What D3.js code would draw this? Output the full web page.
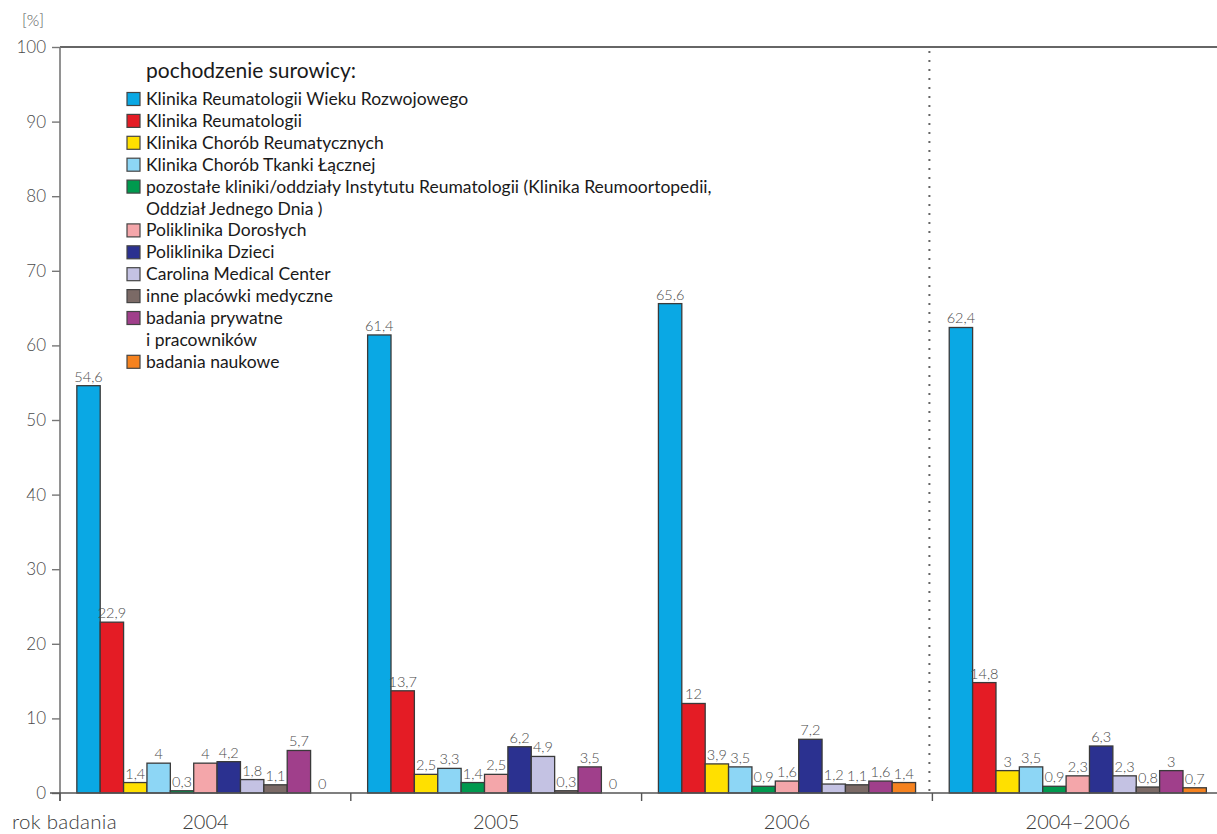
<!DOCTYPE html>
<html>
<head>
<meta charset="utf-8">
<script src="https://cdn.jsdelivr.net/npm/d3@7"></script>
<style>
  html, body { margin: 0; padding: 0; background: #fff; }
  svg { display: block; font-family: Lato, "Open Sans", sans-serif; }
</style>
</head>
<body>
<svg id="chart" width="1217" height="834"></svg>
<script>
// Years of study (groups on the x axis)
const years = ["2004", "2005", "2006", "2004–2006"];

// Origin of the serum samples (series)
const sources = [
  "Klinika Reumatologii Wieku Rozwojowego",
  "Klinika Reumatologii",
  "Klinika Chorób Reumatycznych",
  "Klinika Chorób Tkanki Łącznej",
  "pozostałe kliniki/oddziały Instytutu Reumatologii (Klinika Reumoortopedii,\nOddział Jednego Dnia )",
  "Poliklinika Dorosłych",
  "Poliklinika Dzieci",
  "Carolina Medical Center",
  "inne placówki medyczne",
  "badania prywatne\ni pracowników",
  "badania naukowe"
];

const colors = [
  "#0aa8e4", "#e41c25", "#ffe000", "#8dd6f5", "#00994e", "#f4a6aa",
  "#2b3190", "#c4c2e3", "#7b6a66", "#a03f8b", "#f5821f"
];

// Percent share of each source, one array per year
const values2004 = [54.6, 22.9, 1.4, 4, 0.3, 4, 4.2, 1.8, 1.1, 5.7, 0];
const values2005 = [61.4, 13.7, 2.5, 3.3, 1.4, 2.5, 6.2, 4.9, 0.3, 3.5, 0];
const values2006 = [65.6, 12, 3.9, 3.5, 0.9, 1.6, 7.2, 1.2, 1.1, 1.6, 1.4];
const valuesAll  = [62.4, 14.8, 3, 3.5, 0.9, 2.3, 6.3, 2.3, 0.8, 3, 0.7];

const yTicks = [0, 10, 20, 30, 40, 50, 60, 70, 80, 90, 100];

const table = [values2004, values2005, values2006, valuesAll];

const svg = d3.select("#chart");
const plotLeft = 60, plotTop = 47, plotBottom = 793;

const x = d3.scaleBand().domain(years).range([plotLeft, plotLeft + 4 * 290.8]);
const xi = d3.scaleBand().domain(d3.range(sources.length))
  .range([0, x.bandwidth()]).paddingInner(0).paddingOuter(0.72);
const y = d3.scaleLinear().domain([0, 100]).range([plotBottom, plotTop]);

const fmt = v => String(v).replace(".", ",");

// top frame line
svg.append("line").attr("x1", plotLeft).attr("x2", 1217).attr("y1", plotTop).attr("y2", plotTop)
  .attr("stroke", "#333").attr("stroke-width", 1.6);

// dotted separator before the summary group
const sepX = x("2004–2006") - 3;
svg.append("line").attr("x1", sepX).attr("x2", sepX).attr("y1", plotTop + 4).attr("y2", plotBottom)
  .attr("stroke", "#666").attr("stroke-width", 2).attr("stroke-dasharray", "2,7");

// y axis
const yAxis = svg.append("g").attr("transform", `translate(${plotLeft},0)`)
  .call(d3.axisLeft(y).tickValues(yTicks).tickSize(8).tickPadding(6));
yAxis.select(".domain").attr("stroke", "#777").attr("stroke-width", 1.6)
  .attr("d", `M0,${plotTop}V${plotBottom + 8}`);
yAxis.selectAll(".tick line").attr("stroke", "#777").attr("stroke-width", 1.4);
yAxis.selectAll(".tick text").attr("fill", "#4a4a4a").style("font-size", "17px")
  .style("font-family", "Lato, sans-serif").style("font-weight", 300);

// bars
const groups = svg.selectAll("g.year").data(years).join("g")
  .attr("class", "year").attr("transform", d => `translate(${x(d)},0)`);

groups.each(function(yr, gi) {
  const g = d3.select(this);
  const vals = table[gi];
  g.selectAll("rect").data(vals).join("rect")
    .attr("x", (d, i) => xi(i))
    .attr("y", d => y(d))
    .attr("width", xi.bandwidth())
    .attr("height", d => plotBottom - y(d))
    .attr("fill", (d, i) => colors[i])
    .attr("stroke", d => d > 0 ? "#3a3a3a" : "none")
    .attr("stroke-width", 1.3);
  g.selectAll("text.val").data(vals).join("text")
    .attr("class", "val")
    .attr("x", (d, i) => xi(i) + xi.bandwidth() / 2)
    .attr("y", d => y(d) - 4)
    .attr("text-anchor", "middle")
    .attr("fill", "#4a4a4a")
    .style("font-size", "14.5px").style("font-weight", 300)
    .text(d => fmt(d));
});

// x axis
const xAxis = svg.append("g").attr("transform", `translate(0,${plotBottom})`);
xAxis.append("line").attr("x1", 50).attr("x2", 1217).attr("y1", 0).attr("y2", 0)
  .attr("stroke", "#555").attr("stroke-width", 1.6);
xAxis.selectAll("line.tk").data(years).join("line").attr("class", "tk")
  .attr("x1", d => x(d)).attr("x2", d => x(d)).attr("y1", 0).attr("y2", 8)
  .attr("stroke", "#555").attr("stroke-width", 1.4);
xAxis.selectAll("text.cat").data(years).join("text").attr("class", "cat")
  .attr("x", d => x(d) + x.bandwidth() / 2).attr("y", 36)
  .attr("text-anchor", "middle").attr("fill", "#3a3a3a")
  .style("font-size", "20px").style("font-weight", 300)
  .text(d => d);

svg.append("text").attr("x", 12).attr("y", plotBottom + 36).attr("fill", "#3a3a3a")
  .style("font-size", "20.5px").style("font-weight", 300).style("letter-spacing", "0.3px")
  .text("rok badania");
svg.append("text").attr("x", 22).attr("y", 26).attr("fill", "#555")
  .style("font-size", "16px").style("font-weight", 300).text("[%]");

// legend
const legend = svg.append("g").attr("transform", "translate(127,0)");
legend.append("text").attr("x", 19).attr("y", 78).attr("fill", "#1a1a1a")
  .style("font-size", "21px").text("pochodzenie surowicy:");

const rowH = 21.9;
let row = 0;
sources.forEach((s, i) => {
  const lines = s.split("\n");
  const cy = 99 + row * rowH;
  legend.append("rect").attr("x", 0).attr("y", cy - 6.5).attr("width", 13).attr("height", 13)
    .attr("fill", colors[i]).attr("stroke", "#444").attr("stroke-width", 1.2);
  lines.forEach((ln, k) => {
    legend.append("text").attr("x", 19).attr("y", cy + 6 + k * rowH)
      .attr("fill", "#1a1a1a").style("font-size", "17.5px").text(ln);
  });
  row += lines.length;
});
</script>
</body>
</html>
